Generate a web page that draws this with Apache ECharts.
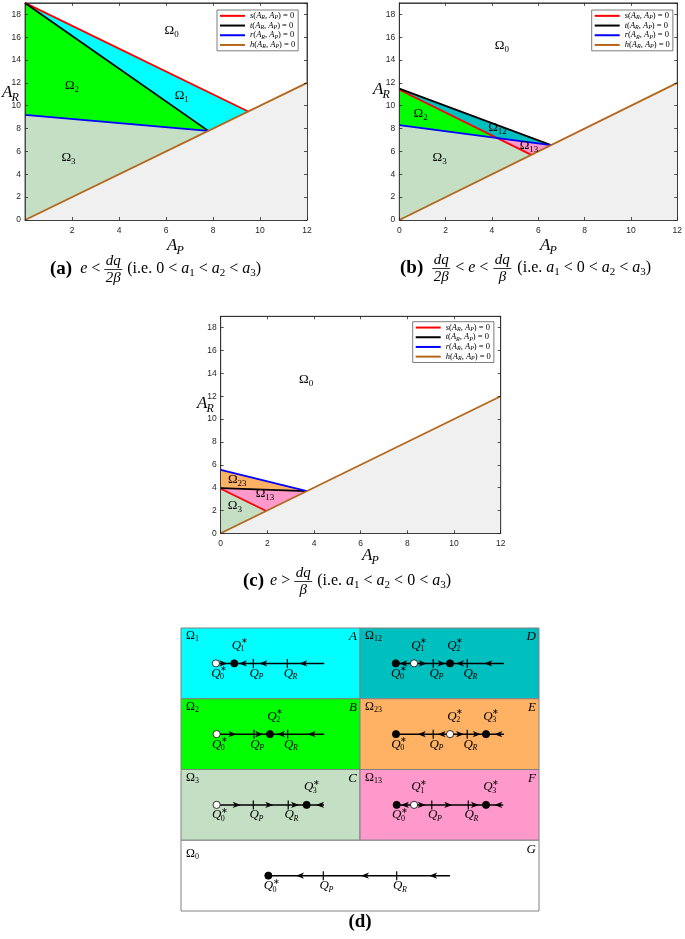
<!DOCTYPE html>
<html><head><meta charset="utf-8">
<script src="https://cdn.jsdelivr.net/npm/echarts@6/dist/echarts.min.js"></script>
<style>html,body{margin:0;padding:0;background:#fff}#c{width:685px;height:939px}</style>
</head><body><div id="c"></div><script>
// ---------------- DATA ----------------
const lineNames = ['s','t','r','h'];
// panel (a)
const aS = [[0,19],[9.5,9.5]];
const aT = [[0,19],[7.8,7.8]];
const aR = [[0,9.2],[7.8,7.8]];
const hLine = [[0,0],[12,12]];
const aOmega1 = [[0,19],[9.5,9.5],[7.8,7.8]];
const aOmega2 = [[0,19],[7.8,7.8],[0,9.2]];
const aOmega3 = [[0,9.2],[7.8,7.8],[0,0]];
const belowH = [[0,0],[12,12],[12,0]];
const aLabelPos = [[6.24,16.5],[6.67,10.8],[2.0,11.66],[1.85,5.4]];
const aLabelSub = ['0','1','2','3'];
// panel (b)
const bS = [[0,11.4],[5.7,5.7]];
const bT = [[0,11.5],[6.55,6.55]];
const bR = [[0,8.3],[6.55,6.55]];
const bOmega12 = [[0,11.5],[6.55,6.55],[4.23,7.17],[0,11.4]];
const bOmega2 = [[0,11.4],[4.23,7.17],[0,8.3]];
const bOmega13 = [[4.23,7.17],[6.55,6.55],[5.7,5.7]];
const bOmega3 = [[0,8.3],[4.23,7.17],[5.7,5.7],[0,0]];
const bLabelPos = [[4.43,15.16],[0.92,9.19],[4.24,8.0],[5.6,6.4],[1.74,5.4]];
const bLabelSub = ['0','2','12','13','3'];
// panel (c)
const cS = [[0,3.9],[1.95,1.95]];
const cT = [[0,3.95],[3.7,3.7]];
const cR = [[0,5.55],[3.7,3.7]];
const cOmega23 = [[0,5.55],[3.7,3.7],[0,3.95]];
const cOmega13 = [[0,3.95],[3.7,3.7],[1.95,1.95],[0,3.9]];
const cOmega3 = [[0,3.9],[1.95,1.95],[0,0]];
const cLabelPos = [[3.66,13.4],[0.71,4.58],[1.9,3.35],[0.61,2.33]];
const cLabelSub = ['0','23','13','3'];
// panel (d): phase lines
const cellNames = ['A','D','B','E','C','F','G'];
const cellOmega = ['1','12','2','23','3','13','0'];
const cellCol = [0,1,0,1,0,1,0];
const cellRow = [0,0,1,1,2,2,3];
const cellSpan = [1,1,1,1,1,1,2];
const cellLineEnd = [8.0,8.04,8.0,8.04,7.99,8.0,15.03];
const cellPoints = [
  [[1.95,'open','0'],[2.98,'fill','1'],[4.04,'tick','P'],[5.94,'tick','R']],
  [[2.0,'fill','0'],[3.02,'open','1'],[4.09,'tick','P'],[5.03,'fill','2'],[5.99,'tick','R']],
  [[1.99,'open','0'],[4.08,'tick','P'],[4.97,'fill','2'],[5.96,'tick','R']],
  [[2.01,'fill','0'],[4.09,'tick','P'],[5.03,'open','2'],[5.99,'tick','R'],[7.04,'fill','3']],
  [[1.99,'open','0'],[4.04,'tick','P'],[5.99,'tick','R'],[7.02,'fill','3']],
  [[2.05,'fill','0'],[3.02,'open','1'],[4.01,'tick','P'],[6.05,'tick','R'],[7.04,'fill','3']],
  [[4.88,'fill','0'],[7.95,'tick','P'],[12.05,'tick','R']]
];
const cellArrows = [
  [[2.36,1],[3.46,-1],[4.6,-1],[6.83,-1]],
  [[2.42,-1],[3.5,1],[4.56,1],[5.59,-1],[7.17,-1]],
  [[2.87,1],[4.37,1],[5.59,-1],[7.30,-1]],
  [[3.45,-1],[4.56,-1],[5.59,1],[6.52,1],[7.73,-1]],
  [[3.11,1],[4.93,1],[6.37,1],[7.77,-1]],
  [[2.51,-1],[3.45,1],[4.93,1],[6.42,1],[7.73,-1]],
  [[6.65,-1],[10.28,-1],[14.09,-1]]
];

// ---------------- STYLE ----------------
const SERIF = '"Liberation Serif"';
const lineColors = {s:'#ff0000', t:'#000000', r:'#0000ff', h:'#b5661a'};
const fills = {cyan:'#00ffff', green:'#00ff00', sage:'#c4dfc4', teal:'#00bfbf', pink:'#ff99cc', orange:'#ffb164', gray:'#f0f0f0', white:'#ffffff'};
const cellFill = ['cyan','teal','green','orange','sage','pink','white'];
const AX = '#262626';

const ctx = document.createElement('canvas').getContext('2d');
function tw(t, f){ ctx.font = f; return ctx.measureText(t).width; }
function txt(x, y, t, f, align){
  return {type:'text', x:x, y:y, style:{text:t, font:f, fill:'#000', align:align||'left', verticalAlign:'middle', textAlign:align||'left', textVerticalAlign:'middle'}};
}
function run(x, y, list){
  const els = []; let cx = x;
  list.forEach(([t,f,dy]) => { els.push(txt(cx, y + (dy||0), t, f)); cx += tw(t,f); });
  return {els, end: cx};
}
function frac(left, y, num, den, f){
  const w = Math.max(tw(num,f), tw(den,f)) + 3;
  const cx = left + w/2;
  return {els:[txt(cx, y-8, num, f, 'center'), txt(cx, y+9, den, f, 'center'),
    {type:'line', shape:{x1:left, y1:y+0.5, x2:left+w, y2:y+0.5}, style:{stroke:'#000', lineWidth:0.8}}], end:left+w};
}
const R13 = '13px ' + SERIF, I13 = 'italic 13px ' + SERIF, S9 = '9px ' + SERIF;
const CR = '16px ' + SERIF, CI = 'italic 16px ' + SERIF, CS = '11px ' + SERIF, CF = 'italic 15px ' + SERIF, CB = 'bold 19px ' + SERIF;

function xAx(g, pos, labels, hideMin){
  return {type:'value', gridIndex:g, position:pos, min:0, max:12, interval:2, z:5,
    axisLine:{show:true, onZero:false, lineStyle:{color:AX, width:0.8}},
    axisTick:{show:true, inside:true, length:3, lineStyle:{color:AX, width:0.8}},
    axisLabel:{show:labels, showMinLabel:!hideMin, showMaxLabel:true, margin:6, color:AX, fontSize:8.5, fontFamily:'Liberation Sans'},
    splitLine:{show:false}};
}
function yAx(g, pos, labels){
  return {type:'value', gridIndex:g, position:pos, min:0, max:19, interval:2, z:5,
    axisLine:{show:true, onZero:false, lineStyle:{color:AX, width:0.8}},
    axisTick:{show:true, inside:true, length:3, lineStyle:{color:AX, width:0.8}},
    axisLabel:{show:labels, showMaxLabel:false, margin:4, color:AX, fontSize:8.5, fontFamily:'Liberation Sans'},
    splitLine:{show:false}};
}

const panels = [
  {lines:{s:aS,t:aT,r:aR,h:hLine}, regions:[[aOmega1,'cyan'],[aOmega2,'green'],[aOmega3,'sage'],[belowH,'gray']], lp:aLabelPos, ls:aLabelSub, legend:[217,10]},
  {lines:{s:bS,t:bT,r:bR,h:hLine}, regions:[[bOmega12,'teal'],[bOmega2,'green'],[bOmega13,'pink'],[bOmega3,'sage'],[belowH,'gray']], lp:bLabelPos, ls:bLabelSub, legend:[591.7,10]},
  {lines:{s:cS,t:cT,r:cR,h:hLine}, regions:[[cOmega23,'orange'],[cOmega13,'pink'],[cOmega3,'sage'],[belowH,'gray']], lp:cLabelPos, ls:cLabelSub, legend:[412.7,321.7]}
];

const series = [];
panels.forEach((p, g) => {
  series.push({type:'custom', xAxisIndex:2*g, yAxisIndex:2*g, z:1, silent:true,
    data: p.regions.map(r => r[0][0]),
    renderItem: (params, api) => {
      const r = p.regions[params.dataIndex];
      return {type:'polygon', shape:{points: r[0].map(v => api.coord(v))}, style:{fill: fills[r[1]], stroke:null}};
    }});
  lineNames.forEach(n => {
    series.push({type:'line', name:n, xAxisIndex:2*g, yAxisIndex:2*g, z:3, data:p.lines[n], symbol:'none',
      color: lineColors[n], lineStyle:{color: lineColors[n], width:1.8}, silent:true});
  });
  series.push({type:'custom', xAxisIndex:2*g, yAxisIndex:2*g, z:4, silent:true,
    data: p.lp,
    renderItem: (params, api) => {
      const c = api.coord(p.lp[params.dataIndex]);
      const sub = p.ls[params.dataIndex];
      const w1 = tw('Ω', R13), w2 = tw(sub, S9);
      const x0 = c[0] - (w1 + w2)/2;
      return {type:'group', children:[txt(x0, c[1]-1, 'Ω', R13), txt(x0 + w1, c[1]+3, sub, S9)]};
    }});
});

// panel (d)
function qLabel(x, y, sub, star){
  const w = tw('Q', I13);
  const ch = [txt(x - w/2, y, 'Q', I13), txt(x + w/2 - 0.5, y + 4, sub, (sub==='P'||sub==='R') ? 'italic 8px '+SERIF : '8px '+SERIF)];
  if (star) ch.push(txt(x + w/2 - 0.5, y - 4, '∗', '8px ' + SERIF));
  return ch;
}
series.push({type:'custom', xAxisIndex:6, yAxisIndex:6, z:2, silent:true,
  data: cellNames.map((n,i) => [cellCol[i]*10, 4 - cellRow[i]]),
  renderItem: (params, api) => {
    const i = params.dataIndex;
    const col = cellCol[i], row = cellRow[i], span = cellSpan[i];
    const tl = api.coord([col*10, 4-row]), br = api.coord([(col+span)*10, 3-row]);
    const yMid = 4 - row - 0.5;
    const X = u => api.coord([col*10 + u, yMid])[0];
    const ly = api.coord([0, yMid])[1];
    const ch = [];
    ch.push({type:'rect', shape:{x:tl[0], y:tl[1], width:br[0]-tl[0], height:br[1]-tl[1]}, style:{fill:fills[cellFill[i]], stroke:'#808080', lineWidth:1}});
    const wO = tw('Ω', '12px '+SERIF);
    const oy = row === 3 ? 14 : 8;
    ch.push(txt(tl[0]+5, tl[1]+oy, 'Ω', '12px '+SERIF));
    ch.push(txt(tl[0]+5+wO, tl[1]+oy+3, cellOmega[i], '8px '+SERIF));
    ch.push(txt(br[0]-3, tl[1]+9, cellNames[i], 'italic 13px '+SERIF, 'right'));
    const pts = cellPoints[i];
    ch.push({type:'line', shape:{x1:X(pts[0][0]), y1:ly, x2:X(cellLineEnd[i]), y2:ly}, style:{stroke:'#000', lineWidth:1.5}});
    cellArrows[i].forEach(([u,d]) => {
      const x = X(u);
      ch.push({type:'polygon', shape:{points:[[x+4*d,ly],[x-4*d,ly-3.2],[x-1.8*d,ly],[x-4*d,ly+3.2]]}, style:{fill:'#000'}});
    });
    pts.forEach(([u,k,s]) => {
      const x = X(u);
      if (k === 'tick') {
        ch.push({type:'line', shape:{x1:x, y1:ly-4.5, x2:x, y2:ly+4.5}, style:{stroke:'#000', lineWidth:1.2}});
        ch.push(...qLabel(x+1, ly+10, s, false));
      } else {
        ch.push({type:'circle', shape:{cx:x, cy:ly, r:3.6}, style:{fill: k==='open' ? '#fff' : '#000', stroke:'#000', lineWidth:0.8}});
        if (s === '0') ch.push(...qLabel(x, ly+10, s, true));
        else ch.push(...qLabel(x+2, ly-18, s, true));
      }
    });
    return {type:'group', children:ch};
  }});

// legends
const legendRich = {
  i:{fontFamily:'Liberation Serif', fontStyle:'italic', fontSize:8.5, color:'#000', lineHeight:9.7},
  u:{fontFamily:'Liberation Serif', fontSize:8.5, color:'#000', lineHeight:9.7},
  b:{fontFamily:'Liberation Serif', fontStyle:'italic', fontSize:6, color:'#000', lineHeight:6, verticalAlign:'bottom'}
};
const legends = panels.map(p => ({
  left:p.legend[0], top:p.legend[1], orient:'vertical', data:lineNames, icon:'rect', itemWidth:25, itemHeight:2,
  itemGap:0, padding:[1,3,1,3], borderColor:AX, borderWidth:0.6, backgroundColor:'#fff', selectedMode:false, z:10,
  formatter: n => `{i|${n}}{u|(}{i|A}{b|R}{u|, }{i|A}{b|P}{u|) = 0}`,
  textStyle:{rich:legendRich, lineHeight:9.7}
}));

// graphic texts: axis names and captions
const A17 = 'italic 17px ' + SERIF, A12 = 'italic 12px ' + SERIF;
function axName(x, y, sub){ return [txt(x, y, 'A', A17), txt(x + tw('A', A17) - 1, y + 5, sub, A12)]; }
const a = (n) => [['a', CI], [n, CS, 4]];
function caption(x, y, parts){
  let cx = x; const els = [];
  parts.forEach(pt => {
    let r;
    if (pt.frac) r = frac(cx, y, pt.frac[0], pt.frac[1], CF);
    else r = run(cx, y, pt.seq);
    els.push(...r.els); cx = r.end + (pt.gap || 0);
  });
  return els;
}
const els = [
  ...axName(2, 93, 'R'), ...axName(167, 246, 'P'),
  ...axName(373, 90, 'R'), ...axName(540, 246, 'P'),
  ...axName(197, 404, 'R'), ...axName(362, 556, 'P'),
  ...caption(50, 269, [{seq:[['(a)', CB]], gap:8}, {seq:[['e', CI], [' <', CR]], gap:4}, {frac:['dq','2β'], gap:5},
    {seq:[['(i.e. 0 < ', CR], ...a('1'), [' < ', CR], ...a('2'), [' < ', CR], ...a('3'), [')', CR]]}]),
  ...caption(400, 268, [{seq:[['(b)', CB]], gap:9}, {frac:['dq','2β'], gap:5}, {seq:[['< ', CR], ['e', CI], [' <', CR]], gap:5},
    {frac:['dq','β'], gap:6},
    {seq:[['(i.e. ', CR], ...a('1'), [' < 0 < ', CR], ...a('2'), [' < ', CR], ...a('3'), [')', CR]]}]),
  ...caption(243, 581, [{seq:[['(c)', CB]], gap:6}, {seq:[['e', CI], [' >', CR]], gap:4}, {frac:['dq','β'], gap:5},
    {seq:[['(i.e. ', CR], ...a('1'), [' < ', CR], ...a('2'), [' < 0 < ', CR], ...a('3'), [')', CR]]}]),
  txt(360, 922, '(d)', CB, 'center')
];

const option = {
  animation:false,
  grid:[
    {left:25, top:2.9, width:282, height:217.1, show:true, borderColor:AX, borderWidth:0.8},
    {left:399.3, top:2.9, width:280, height:217.1, show:true, borderColor:AX, borderWidth:0.8},
    {left:220.7, top:316.3, width:280, height:217, show:true, borderColor:AX, borderWidth:0.8},
    {left:181, top:628, width:358, height:283, show:false}
  ],
  xAxis:[xAx(0,'bottom',true,true), xAx(0,'top',false), xAx(1,'bottom',true,false), xAx(1,'top',false),
         xAx(2,'bottom',true,false), xAx(2,'top',false),
         {type:'value', gridIndex:3, min:0, max:20, show:false}],
  yAxis:[yAx(0,'left',true), yAx(0,'right',false), yAx(1,'left',true), yAx(1,'right',false),
         yAx(2,'left',true), yAx(2,'right',false),
         {type:'value', gridIndex:3, min:0, max:4, show:false}],
  legend: legends,
  graphic:{elements: els},
  series: series
};
const chart = echarts.init(document.getElementById('c'), null, {renderer:'canvas'});
chart.setOption(option);
</script></body></html>
